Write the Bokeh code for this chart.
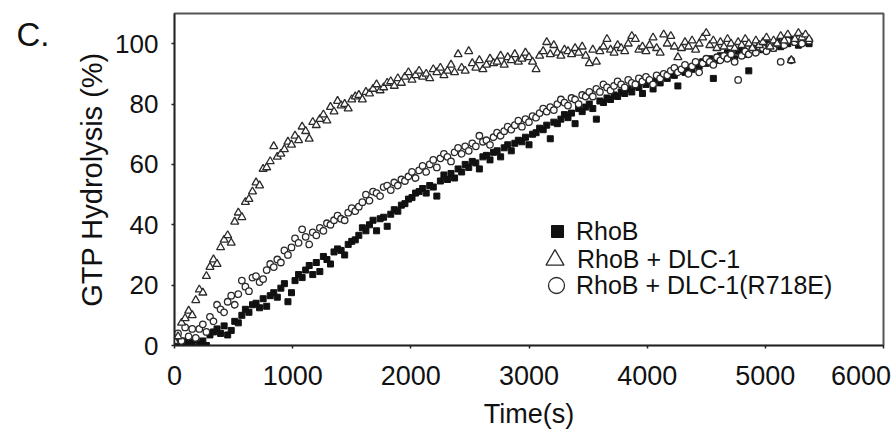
from bokeh.plotting import figure
from bokeh.models import Range1d, FixedTicker, Legend, LegendItem, LinearAxis
from bokeh.embed import file_html
from bokeh.resources import INLINE

# ---------------- data ----------------
TIME_S = [
    0, 30, 60, 90, 120, 150, 180, 210, 240, 270,
    300, 330, 360, 390, 420, 450, 480, 510, 540, 570,
    600, 630, 660, 690, 720, 750, 780, 810, 840, 870,
    900, 930, 960, 990, 1020, 1050, 1080, 1110, 1140, 1170,
    1200, 1230, 1260, 1290, 1320, 1350, 1380, 1410, 1440, 1470,
    1500, 1530, 1560, 1590, 1620, 1650, 1680, 1710, 1740, 1770,
    1800, 1830, 1860, 1890, 1920, 1950, 1980, 2010, 2040, 2070,
    2100, 2130, 2160, 2190, 2220, 2250, 2280, 2310, 2340, 2370,
    2400, 2430, 2460, 2490, 2520, 2550, 2580, 2610, 2640, 2670,
    2700, 2730, 2760, 2790, 2820, 2850, 2880, 2910, 2940, 2970,
    3000, 3030, 3060, 3090, 3120, 3150, 3180, 3210, 3240, 3270,
    3300, 3330, 3360, 3390, 3420, 3450, 3480, 3510, 3540, 3570,
    3600, 3630, 3660, 3690, 3720, 3750, 3780, 3810, 3840, 3870,
    3900, 3930, 3960, 3990, 4020, 4050, 4080, 4110, 4140, 4170,
    4200, 4230, 4260, 4290, 4320, 4350, 4380, 4410, 4440, 4470,
    4500, 4530, 4560, 4590, 4620, 4650, 4680, 4710, 4740, 4770,
    4800, 4830, 4860, 4890, 4920, 4950, 4980, 5010, 5040, 5070,
    5100, 5130, 5160, 5190, 5220, 5250, 5280, 5310, 5340, 5370,
]

RHOB = [
    0.5, 1.0, 0.0, 1.5, 0.5, 1.0, 2.0, 0.5, 1.5, 0.0,
    3.5, 4.5, 5.5, 4.0, 6.5, 3.5, 5.0, 8.0, 7.5, 10.0,
    12.0, 11.0, 13.5, 14.0, 12.5, 15.5, 13.0, 16.5, 17.5, 16.0,
    19.0, 20.5, 14.5, 17.5, 21.5, 23.5, 22.5, 25.0, 26.5, 23.5,
    27.5, 24.5, 29.5, 28.5, 27.0, 31.0, 32.0, 31.5, 30.0, 33.5,
    34.5, 35.0, 36.5, 39.0, 38.0, 40.0, 41.5, 38.0, 42.0, 42.5,
    39.5, 43.5, 45.0, 44.5, 46.5, 47.0, 48.5, 49.0, 50.5, 51.0,
    52.0, 50.5, 53.0, 52.5, 49.5, 54.5, 56.5, 55.0, 57.0, 55.5,
    58.5, 57.5, 60.0, 59.0, 61.0, 60.5, 58.5, 62.5, 63.0, 61.5,
    64.0, 64.5, 62.5, 65.5, 66.5, 64.5, 67.0, 68.0, 67.5, 69.0,
    66.5, 70.0, 70.5, 72.0, 71.5, 73.0, 68.5, 74.0, 73.5, 75.0,
    76.5, 75.5, 77.0, 73.5, 78.5, 77.5, 79.0, 80.0, 78.5, 75.0,
    81.0, 80.5, 82.0, 81.5, 83.0, 82.5, 84.0, 83.5, 85.0, 84.0,
    86.0, 85.5, 83.5, 86.5, 87.5, 85.0, 88.0, 87.0, 89.0, 88.5,
    90.0, 89.5, 86.0, 91.0, 90.5, 92.0, 91.5, 93.0, 92.5, 94.0,
    93.5, 95.0, 88.5, 94.5, 96.0, 95.5, 97.0, 96.5, 95.0, 97.5,
    98.0, 96.5, 91.0, 98.5, 97.5, 99.0, 98.0, 100.0, 99.5, 98.5,
    100.5, 99.0, 101.0, 100.0, 101.5, 100.5, 99.5, 101.0, 100.5, 100.0,
]

RHOB_DLC1 = [
    1.5, 3.0, 7.5, 9.0, 11.5, 10.0, 15.0, 18.5, 17.5, 23.0,
    26.0, 28.5, 27.0, 32.5, 35.0, 36.5, 34.0, 41.0, 44.0, 42.5,
    47.5, 48.5, 51.0, 54.0, 53.0, 58.5, 59.0, 61.0, 66.0, 62.5,
    63.5, 65.0, 67.5, 66.5, 69.5, 68.0, 72.5, 71.0, 68.5, 74.0,
    73.0, 75.0, 76.5, 74.5, 79.0, 77.5, 81.0, 79.5, 80.0, 78.5,
    81.5, 82.5, 83.0, 81.5, 84.0, 83.5, 85.0, 86.5, 84.5, 85.5,
    87.0, 87.5, 86.0, 88.5, 87.0, 89.0, 90.5, 88.0, 89.5, 91.0,
    89.0, 90.0, 88.5, 91.5, 90.5, 92.0, 89.5, 91.0, 93.0, 90.5,
    96.5, 92.0, 91.0, 97.5, 93.5, 92.0, 94.5, 91.5, 93.0, 95.0,
    93.5, 94.0, 96.0, 93.0, 95.5, 94.5, 96.5, 94.0, 95.0, 97.0,
    95.5, 94.0, 91.5, 96.0, 97.5, 100.5, 96.5, 99.5, 97.0, 96.0,
    98.0, 97.5, 96.5, 98.5, 97.0, 99.0, 96.0, 93.5, 98.0, 94.0,
    97.5, 99.0, 101.5, 98.0, 97.0, 99.5, 98.5, 97.5, 100.0, 102.5,
    101.5, 98.0, 99.0, 97.5, 99.5, 102.0, 98.5, 97.0, 103.0, 100.0,
    102.5, 99.0, 95.5, 98.5, 100.5, 99.0, 101.0, 98.0, 100.0, 102.0,
    103.5, 99.5, 101.0, 98.5, 100.5, 99.0, 101.5, 100.0, 98.5, 100.5,
    99.5, 101.5, 100.0, 98.5, 101.0, 99.5, 100.5, 102.0, 99.0, 101.0,
    100.0, 102.5, 101.0, 103.0, 94.5, 101.5, 103.5, 102.0, 103.0, 101.5,
]

RHOB_DLC1_R718E = [
    2.0, 4.0, 1.5, 6.0, 3.0, 5.5, 2.5, 5.5, 7.0, 4.5,
    9.5, 8.0, 13.5, 12.0, 11.0, 14.5, 16.5, 13.5, 17.0, 21.5,
    19.5, 18.0, 22.5, 23.0, 21.0, 22.0, 25.0, 27.0, 26.0, 28.5,
    27.5, 31.5, 30.0, 32.5, 35.5, 34.0, 38.5, 36.0, 33.5, 37.5,
    36.5, 39.0, 38.0, 40.5, 40.0, 41.5, 43.0, 42.0, 41.5, 44.0,
    45.5, 44.5, 46.0, 47.5, 50.0, 48.0, 51.0, 50.5, 49.5, 52.5,
    53.0, 51.5, 54.0, 53.0, 55.0, 54.5, 56.0, 57.5, 55.5, 58.0,
    59.5, 57.5, 60.0, 61.5, 59.0, 62.0, 63.5, 62.5, 61.0, 64.0,
    65.5, 63.5, 66.0, 64.5, 67.0, 66.0, 69.5, 67.5, 68.0, 66.5,
    69.0, 70.5, 69.5, 71.0, 72.5, 71.5, 73.0, 74.5, 72.5, 75.0,
    74.0, 76.0, 75.5, 77.0, 78.5, 77.5, 79.0, 78.0, 80.0, 81.5,
    80.5, 79.5, 82.0, 81.5, 80.0, 83.0, 82.5, 84.0, 82.5, 85.0,
    84.0, 86.5, 85.5, 84.5, 86.0, 87.5, 86.5, 85.5, 88.0, 87.0,
    86.5, 88.5, 87.5, 89.0, 88.0, 86.5, 89.5, 88.5, 90.0, 89.5,
    91.0, 92.0, 90.5, 91.5, 93.0, 90.0, 92.5, 94.0, 90.5, 93.5,
    95.0, 94.0, 93.0, 95.5, 94.5, 96.0, 95.0, 96.5, 94.0, 88.0,
    96.0, 97.5, 96.5, 98.0, 97.0, 99.0, 98.5, 97.5, 99.5, 98.5,
    100.0, 94.0, 99.5, 101.0, 94.5, 100.5, 101.5, 100.0, 102.0, 101.0,
]

SERIES_LABELS = ["RhoB", "RhoB + DLC-1", "RhoB + DLC-1(R718E)"]
X_TICKS = [0, 1000, 2000, 3000, 4000, 5000, 6000]
Y_TICKS = [0, 20, 40, 60, 80, 100]
X_LABEL = "Time(s)"
Y_LABEL = "GTP Hydrolysis (%)"
PANEL_TAG = "C."

FONT = "Liberation Sans"
INK = "#111111"
THIN = "\u2009"         # thin space, nudges the last x label slightly left
TAG_AT = 103            # height (y units) at which the panel tag sits

# ---------------- figure ----------------
p = figure(width=896, height=431, output_backend="svg", toolbar_location=None,
           x_range=Range1d(0, 6000), y_range=Range1d(0, 110),
           min_border_left=174, min_border_right=13, min_border_top=13,
           min_border_bottom=81,
           background_fill_color="white", border_fill_color="white")
p.grid.visible = False
p.outline_line_color = "#555555"
p.outline_line_width = 2

for ax in (p.xaxis[0], p.yaxis[0]):
    ax.axis_line_color = "#222222"
    ax.axis_line_width = 1.5
    ax.major_tick_line_color = "#222222"
    ax.major_tick_line_width = 1.5
    ax.major_tick_in = 0
    ax.major_tick_out = 3
    ax.minor_tick_line_color = None
    ax.major_label_text_font = FONT
    ax.major_label_text_color = INK
    ax.axis_label_text_font = FONT
    ax.axis_label_text_font_style = "normal"
    ax.axis_label_text_color = INK

p.xaxis.ticker = FixedTicker(ticks=X_TICKS)
p.yaxis.ticker = FixedTicker(ticks=Y_TICKS)
p.xaxis.major_label_text_font_size = "27px"
p.yaxis.major_label_text_font_size = "26px"
p.xaxis.major_label_standoff = 12
p.yaxis.major_label_standoff = 13
p.xaxis.major_label_overrides = {6000: "6000" + THIN}

p.xaxis.axis_label = X_LABEL
p.xaxis.axis_label_text_font_size = "27px"
p.xaxis.axis_label_standoff = 5

p.yaxis.axis_label = Y_LABEL
p.yaxis.axis_label_text_font_size = "29px"
p.yaxis.axis_label_standoff = 4

# panel tag "C." as the single label of an extra, invisible left axis
p.extra_y_ranges = {"tag": Range1d(0, 110)}
tag_axis = LinearAxis(y_range_name="tag", ticker=FixedTicker(ticks=[TAG_AT]),
                      major_label_overrides={TAG_AT: PANEL_TAG},
                      axis_line_color=None, major_tick_line_color=None,
                      minor_tick_line_color=None, major_tick_in=0, major_tick_out=0,
                      major_label_text_font=FONT, major_label_text_font_size="33px",
                      major_label_text_color=INK, major_label_standoff=24)
p.add_layout(tag_axis, "left")

# ---------------- series ----------------
r_sq = p.scatter(TIME_S, RHOB, marker="square", size=6,
                 fill_color=INK, line_color=INK, line_width=1)
r_ci = p.scatter(TIME_S, RHOB_DLC1_R718E, marker="circle", size=6.5,
                 fill_color="white", line_color="#2a2a2a", line_width=1.3)
r_tr = p.scatter(TIME_S, RHOB_DLC1, marker="triangle", size=8,
                 fill_color="white", line_color="#2a2a2a", line_width=1.3)

# ---------------- legend (one per key so each key has its own size) ----
def add_key(renderer, label, glyph_px, loc, standoff):
    lg = Legend(items=[LegendItem(label=label, renderers=[renderer])],
                location=loc, orientation="vertical",
                glyph_width=glyph_px, glyph_height=glyph_px,
                label_height=glyph_px, label_standoff=standoff,
                padding=0, margin=0, spacing=0,
                border_line_color=None, background_fill_alpha=0,
                label_text_font=FONT, label_text_font_size="25px",
                label_text_color=INK)
    p.add_layout(lg)

add_key(r_sq, SERIES_LABELS[0], 30, (368, 99), 4)
add_key(r_tr, SERIES_LABELS[1], 45, (358, 63), 0)
add_key(r_ci, SERIES_LABELS[2], 40, (362, 40), 0)

open("out.html", "w").write(file_html(p, INLINE))
